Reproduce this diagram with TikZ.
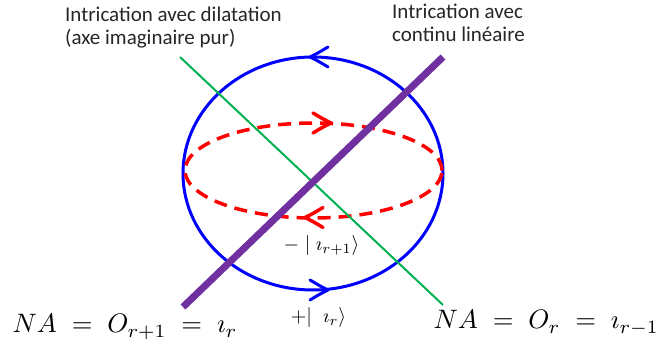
\documentclass[tikz,border=0pt]{standalone}
\usepackage{fontspec}
\newfontfamily\labelfont{Carlito}
\definecolor{greenline}{RGB}{0,176,80}
\definecolor{purpleline}{RGB}{112,48,160}

% open arrow head: colour, tip, direction (1 = left, -1 = right)
\newcommand{\chevron}[3]{%
  \draw[#1, line cap=round, line join=round, shift={(#2)}, xscale=#3]
    (18,10) .. controls (8,4) .. (0,0) .. controls (8,-4) .. (18,-10);}

\begin{document}
\begin{tikzpicture}[x=1pt,y=1pt,
  sanslabel/.style={anchor=north west, align=left, inner sep=0pt, text=black!85},
  eqlabel/.style={anchor=base west, inner sep=0pt, scale=2.67},
  ketlabel/.style={inner sep=0pt, scale=2}]
\useasboundingbox (0,0) rectangle (658,347);

% sphere and equator
\coordinate (ctr) at (313,173.5);
\coordinate (eqctr) at (313.5,176.5);
\draw[blue, line width=3pt] (ctr) ellipse [x radius=130, y radius=116.5];
\draw[red, line width=3.5pt, dash pattern=on 13pt off 8pt] (eqctr) ellipse [x radius=128.5, y radius=47.5];

\coordinate (bluetop) at (310,290);
\coordinate (bluebot) at (328,57);
\coordinate (redtop) at (331,224);
\coordinate (redbot) at (305,129.5);
\chevron{blue, line width=3pt}{bluetop}{1}
\chevron{blue, line width=3pt}{bluebot}{-1}
\chevron{red, line width=3.5pt}{redtop}{-1}
\chevron{red, line width=3.5pt}{redbot}{1}

% axes
\coordinate (gtop) at (180,290);
\coordinate (gbot) at (443,42);
\coordinate (ptop) at (443,290);
\coordinate (pbot) at (183,40);
\draw[greenline, line width=2pt] (gtop) -- (gbot);
\draw[purpleline, line width=7pt] (pbot) -- (ptop);

\node[sanslabel, font=\labelfont\fontsize{21}{23}\selectfont] (dilat) at (65,340) {Intrication avec dilatation\\(axe imaginaire pur)};
\node[sanslabel, font=\labelfont\fontsize{21}{23}\selectfont] (contin) at (392,343) {Intrication avec\\continu linéaire};

\node[ketlabel] (minusket) at (321.5,101) {$-\;|\;\imath_{r+1}\rangle$};
\node[ketlabel] (plusket) at (318.5,29) {$+|\;\;\imath_r\rangle$};

\node[eqlabel] (naleft) at (12,14) {$NA \;=\; O_{r+1} \;=\; \imath_r$};
\node[eqlabel] (naright) at (433,18) {$NA \;=\; O_r \;=\; \imath_{r-1}$};
\end{tikzpicture}
\end{document}
